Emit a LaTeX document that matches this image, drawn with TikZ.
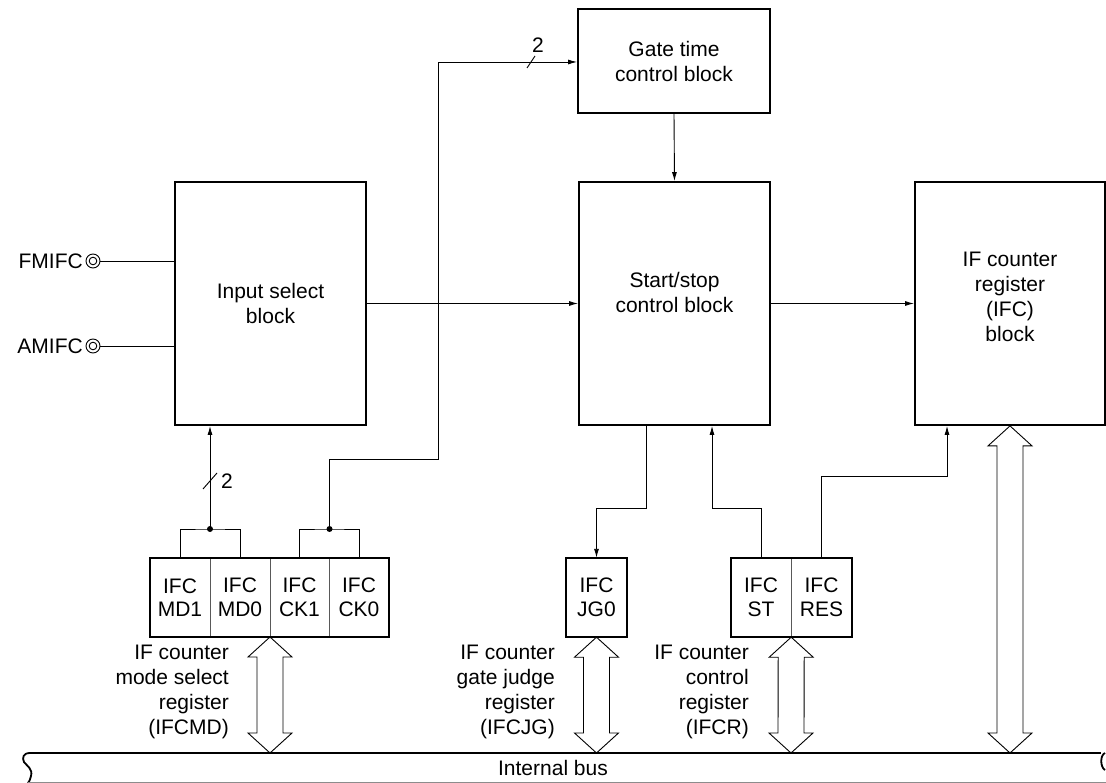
\documentclass[tikz,border=0pt]{standalone}
\usepackage{fontspec}
\setmainfont{Liberation Sans}
\usetikzlibrary{arrows.meta,calc}
\tikzset{
  blk/.style={draw, line width=1.8pt, align=center, inner sep=0pt, minimum height=243pt, minimum width=191pt},
  txt/.style={align=center, inner sep=0pt},
  cell/.style={align=center, inner sep=0pt, minimum height=79pt},
  conn/.style={line width=0.9pt},
  arr/.style={conn, -{Latex[length=9pt,width=5pt]}},
  regbox/.style={draw, line width=1.8pt},
  divline/.style={line width=0.9pt, draw=black!65},
  bigarrow/.style={line width=0.9pt, fill=white},
  lbl/.style={align=right, inner sep=0pt, anchor=north east},
  jdot/.style={circle, fill, inner sep=0pt, minimum size=6pt},
  pinc/.style={circle, draw, line width=0.9pt, minimum size=14pt, inner sep=0pt,
    path picture={\draw[line width=0.9pt] (path picture bounding box.center) circle (3.8pt);}},
  busline/.style={line width=1.8pt},
}
\newcommand\bigdarrow[2]{\draw[bigarrow] (#1) -- ++(22,20) -- ++(-9,0) -- ($(#2)+(13,-20)$) -- ++(9,0) -- (#2) -- ++(-22,-20) -- ++(9,0) -- ($(#1)+(-13,20)$) -- ++(-9,0) -- cycle;}
\begin{document}
\begin{tikzpicture}[x=1pt,y=-1pt, font=\fontsize{21}{25}\selectfont]
\useasboundingbox (0,0) rectangle (1106,783);
% blocks
\node[blk, minimum height=104pt, minimum width=192pt] (gate) at (674,61) {Gate time\\control block};
\node[blk] (inp) at (270.5,303.5) {Input select\\block};
\node[blk] (ss) at (674.5,303.5) {};
\node[txt] (sst) at ($(ss.center)+(0,-11.5)$) {Start/stop\\control block};
\node[blk, minimum width=190pt] (ifc) at (1010,303.5) {};
\node[txt] (ifct) at ($(ifc.center)+(0,-6.5)$) {IF counter\\register\\(IFC)\\block};
% pins
\node[pinc] (fm) at (93,261) {};
\node[pinc] (am) at (93,346) {};
\node[anchor=east, inner sep=0pt] (fmt) at (83,261) {FMIFC};
\node[anchor=east, inner sep=0pt] (amt) at (83,346) {AMIFC};
\draw[conn] (fm.east) -- (fm.east -| inp.west);
\draw[conn] (am.east) -- (am.east -| inp.west);
% register cells
\begin{scope}[font=\fontsize{21}{23.5}\selectfont]
\node[cell, minimum width=60pt] (md1) at (180,597.5) {IFC\\MD1};
\node[cell, minimum width=60pt] (md0) at (240,597.5) {IFC\\MD0};
\node[cell, minimum width=59pt] (ck1) at (299.5,597.5) {IFC\\CK1};
\node[cell, minimum width=60pt] (ck0) at (359,597.5) {IFC\\CK0};
\node[cell, minimum width=61pt] (jg0) at (596.5,597.5) {IFC\\JG0};
\node[cell, minimum width=60pt] (st) at (761,597.5) {IFC\\ST};
\node[cell, minimum width=61pt] (res) at (821.5,597.5) {IFC\\RES};
\end{scope}
\draw[divline] (md1.north east) -- (md1.south east);
\draw[divline] (md0.north east) -- (md0.south east);
\draw[divline] (ck1.north east) -- (ck1.south east);
\draw[divline] (st.north east) -- (st.south east);
\draw[regbox] (md1.north west) rectangle (ck0.south east);
\draw[regbox] (jg0.north west) rectangle (jg0.south east);
\draw[regbox] (st.north west) rectangle (res.south east);
% register labels
\node[lbl] (lmd) at (229,644.5) {IF counter\\mode select\\register\\(IFCMD)};
\node[lbl] (ljg) at (555,644.5) {IF counter\\gate judge\\register\\(IFCJG)};
\node[lbl] (lcr) at (749,644.5) {IF counter\\control\\register\\(IFCR)};
% mode select bracket
\coordinate (jmd) at (210,529);
\coordinate (jck) at (329.5,529);
\draw[conn] (md1.north) |- (jmd) -| (md0.north);
\draw[conn] (ck1.north) |- (jck) -| (ck0.north);
\node[jdot] at (jmd) {};
\node[jdot] at (jck) {};
\draw[arr] (jmd) -- (jmd |- inp.south);
\draw[conn] (203,489) -- (217,473);
\node[inner sep=0pt] (n2a) at (227,481) {2};
% clock select to gate time
\coordinate (c1) at (438,459);
\coordinate (c2) at (438,62);
\draw[arr] (jck) |- (c1) -- (c2) -- (c2 -| gate.west);
\draw[conn] (527,68) -- (535,56);
\node[inner sep=0pt] (n2b) at (538,45) {2};
% main flow
\draw[arr] (gate.south) -- (ss.north);
\draw[arr] (inp.east) -- (ss.west);
\draw[arr] (ss.east) -- (ifc.west);
% start/stop to JG0
\coordinate (b1) at (646,508);
\draw[arr] (b1 |- ss.south) -- (b1) -| (jg0.north);
% ST to start/stop
\coordinate (b2) at (712,508);
\draw[arr] (st.north) |- (b2) -- (b2 |- ss.south);
% RES to IFC
\coordinate (b3) at (947,476);
\draw[arr] (res.north) |- (b3) -- (b3 |- ifc.south);
% bus arrows
\coordinate (t1) at (270,637);
\coordinate (u1) at (270,753);
\coordinate (u2) at (596.5,753);
\coordinate (u3) at (791,753);
\coordinate (u4) at (1010,753);
\bigdarrow{t1}{u1}
\bigdarrow{jg0.south}{u2}
\bigdarrow{st.south east}{u3}
\bigdarrow{ifc.south}{u4}
% internal bus
\coordinate (busL) at (30,753);
\coordinate (busR) at (1101,753);
\draw[busline] (busL) -- (busR);
\draw[busline] (busL) .. controls (23,753) and (22,758) .. (24,762) .. controls (27,766) and (33,769) .. (31,776) .. controls (30,780) and (29,782) .. (28,783);
\draw[busline] (1105,753) .. controls (1100,755) and (1100,767) .. (1105,770);
\draw[line width=0.9pt, draw=black!45] (28,782) -- (1106,782);
\node[inner sep=0pt] (bus) at (553,768) {Internal bus};
\end{tikzpicture}
\end{document}
